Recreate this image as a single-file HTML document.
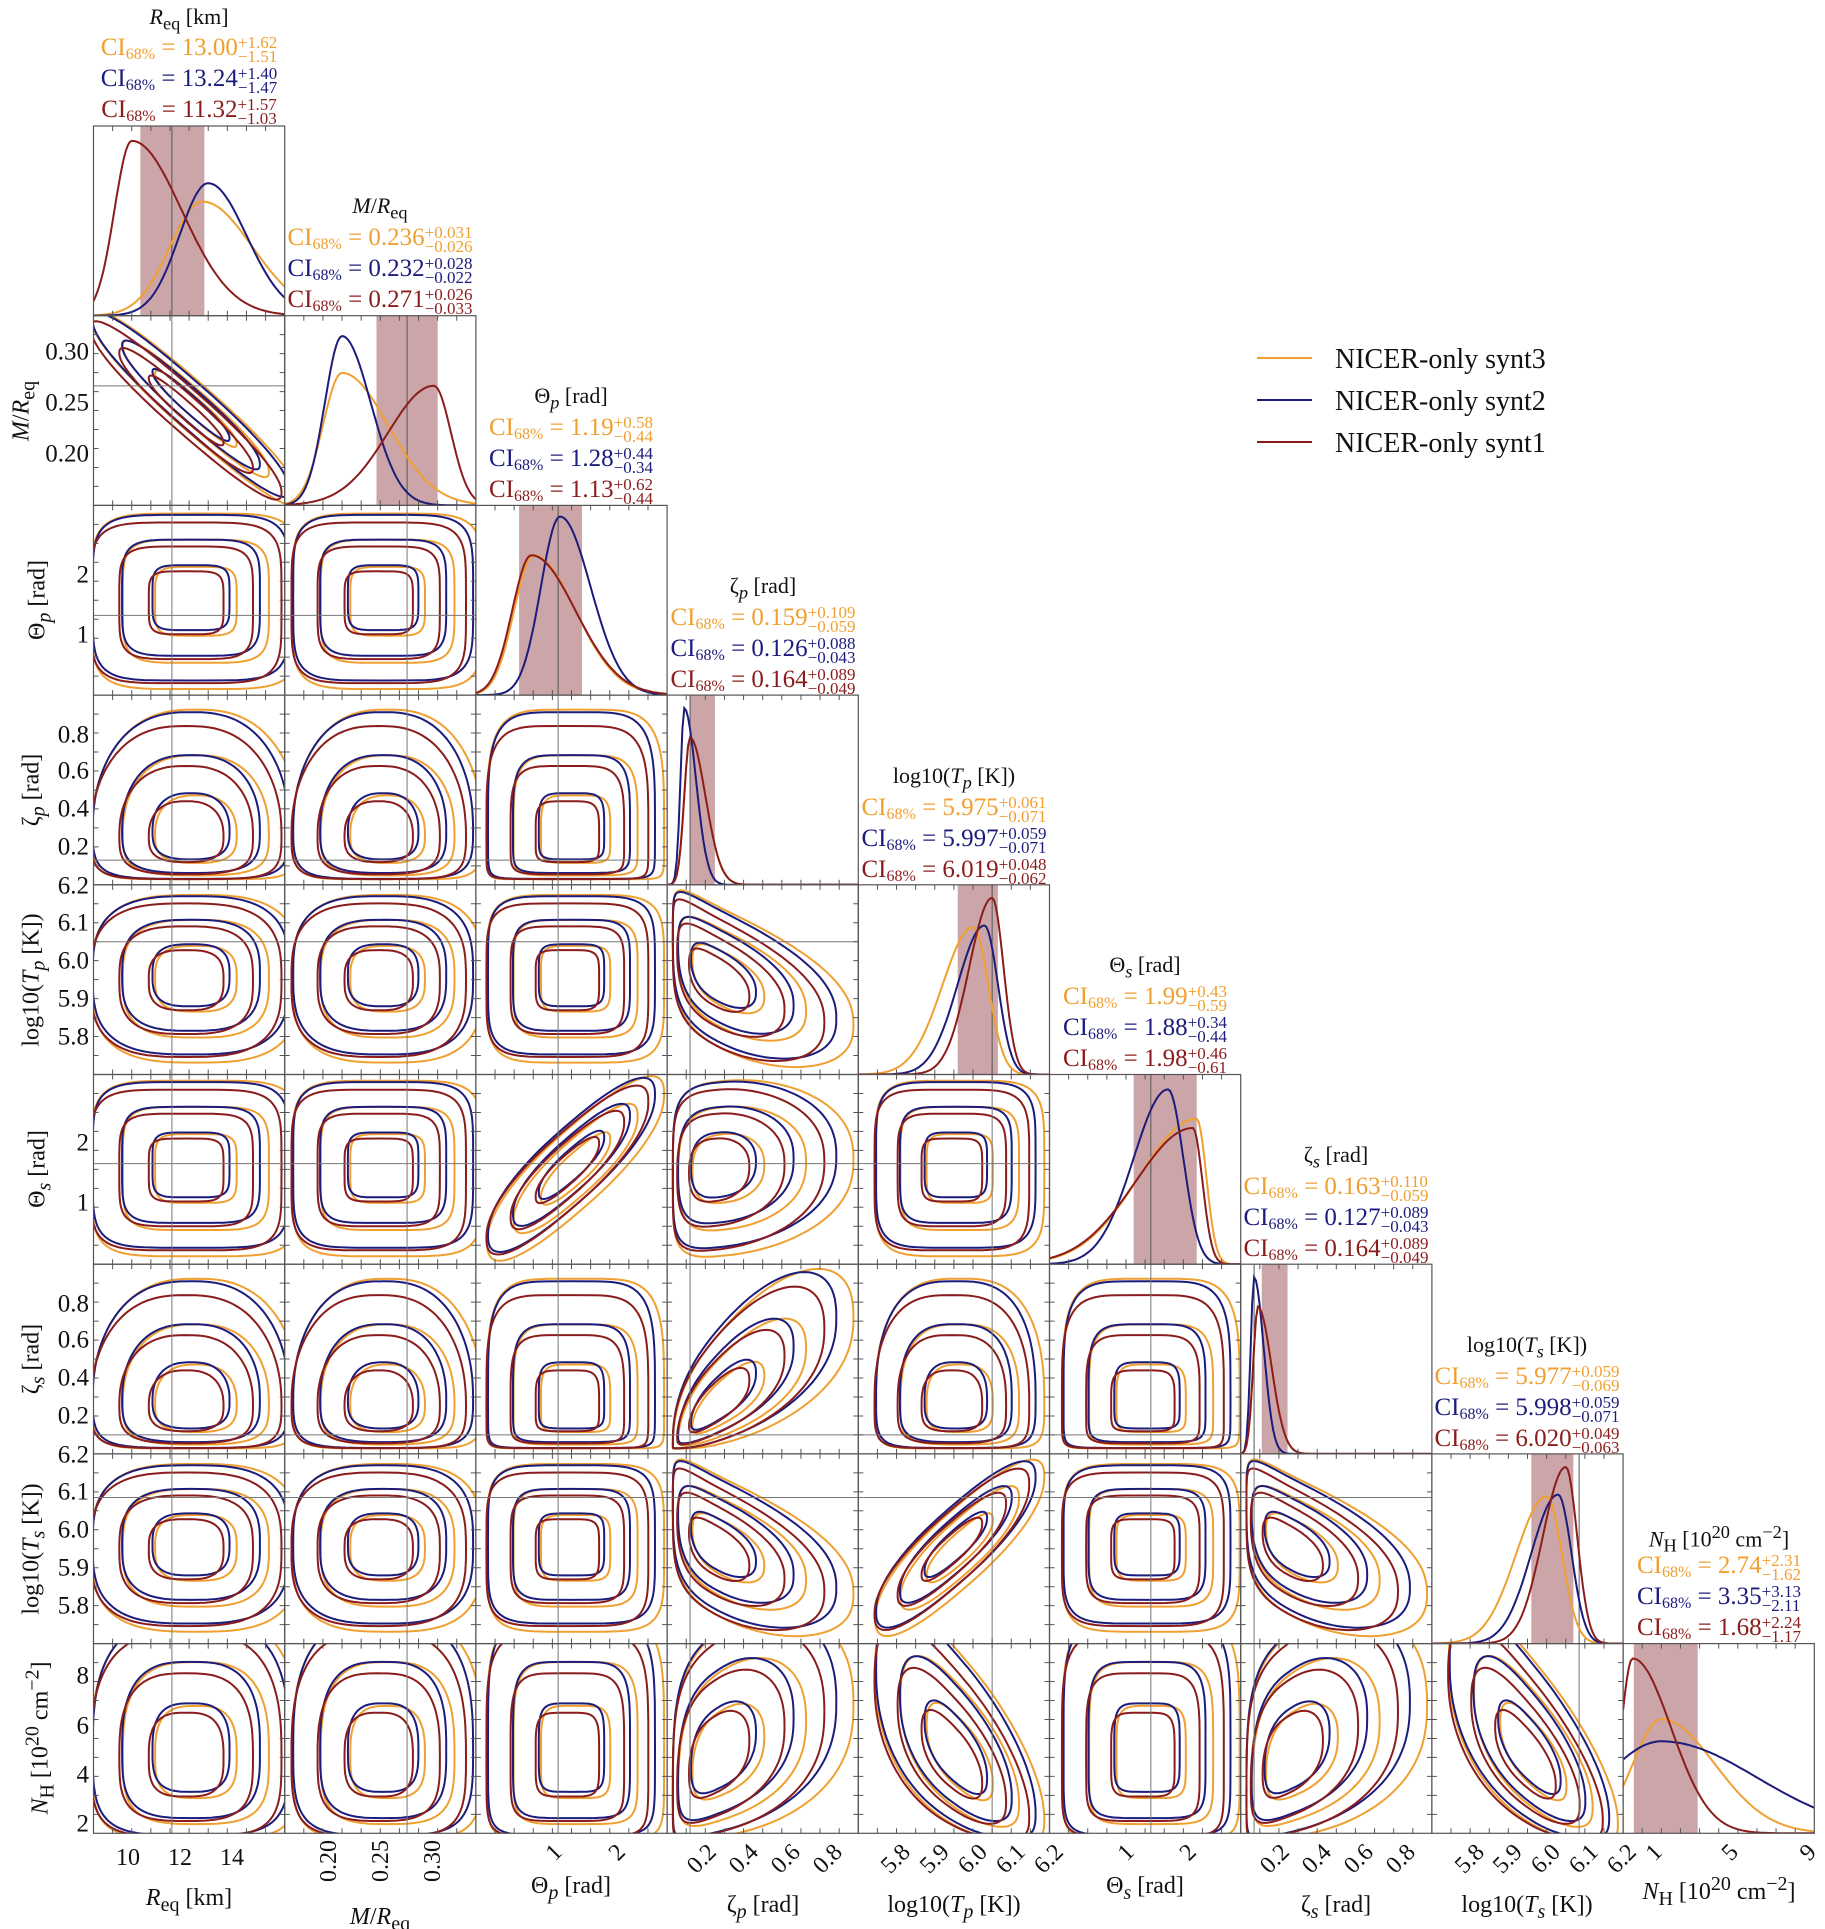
<!DOCTYPE html>
<html><head><meta charset="utf-8">
<style>
body{margin:0;background:#fff;}
#wrap{position:relative;width:1825px;height:1929px;overflow:hidden;background:#fff;font-family:"Liberation Serif",serif;}
svg{position:absolute;left:0;top:0;}
.t{position:absolute;white-space:nowrap;line-height:1;transform:translateX(-50%);}
.ti{font-size:22px;color:#111;}
.ci{font-size:25px;}
.ci sub{font-size:16px;vertical-align:-4px;}
.st{display:inline-block;vertical-align:-7px;font-size:17px;line-height:14px;text-align:left;}
.st span{display:block;}
.o{color:#f0a030}.b{color:#1c1c7c}.r{color:#8b1c1c}
.yl{position:absolute;white-space:nowrap;font-size:24px;line-height:1;transform:translate(-50%,-50%) rotate(-90deg);color:#111;}
.yt{position:absolute;font-size:25px;line-height:1;transform:translate(-100%,-50%);color:#111;}
.xt{position:absolute;font-size:24px;line-height:1;transform-origin:100% 0;transform:translateX(-100%) rotate(-45deg);color:#111;}
.xt9{position:absolute;font-size:24px;line-height:1;transform-origin:100% 0;transform:translateX(-100%) rotate(-90deg) translateY(-50%);color:#111;}
.xl{position:absolute;white-space:nowrap;font-size:24px;line-height:1;transform:translateX(-50%);color:#111;}
.lg{position:absolute;font-size:28px;line-height:1;color:#111;white-space:nowrap;}
</style></head><body>
<div id="wrap">
<svg id="s" width="1825" height="1929" viewBox="0 0 1825 1929"></svg>

<div class="t ti" style="left:189px;top:6px"><i>R</i><sub>eq</sub> [km]</div>
<div class="t ci o" style="left:189px;top:35px">CI<sub>68%</sub> = 13.00<span class="st"><span>+1.62</span><span>−1.51</span></span></div>
<div class="t ci b" style="left:189px;top:66px">CI<sub>68%</sub> = 13.24<span class="st"><span>+1.40</span><span>−1.47</span></span></div>
<div class="t ci r" style="left:189px;top:97px">CI<sub>68%</sub> = 11.32<span class="st"><span>+1.57</span><span>−1.03</span></span></div>

<div class="t ti" style="left:380px;top:195px"><i>M</i>/<i>R</i><sub>eq</sub></div>
<div class="t ci o" style="left:380px;top:225px">CI<sub>68%</sub> = 0.236<span class="st"><span>+0.031</span><span>−0.026</span></span></div>
<div class="t ci b" style="left:380px;top:256px">CI<sub>68%</sub> = 0.232<span class="st"><span>+0.028</span><span>−0.022</span></span></div>
<div class="t ci r" style="left:380px;top:287px">CI<sub>68%</sub> = 0.271<span class="st"><span>+0.026</span><span>−0.033</span></span></div>

<div class="t ti" style="left:571px;top:385px">Θ<sub><i>p</i></sub> [rad]</div>
<div class="t ci o" style="left:571px;top:415px">CI<sub>68%</sub> = 1.19<span class="st"><span>+0.58</span><span>−0.44</span></span></div>
<div class="t ci b" style="left:571px;top:446px">CI<sub>68%</sub> = 1.28<span class="st"><span>+0.44</span><span>−0.34</span></span></div>
<div class="t ci r" style="left:571px;top:477px">CI<sub>68%</sub> = 1.13<span class="st"><span>+0.62</span><span>−0.44</span></span></div>

<div class="t ti" style="left:763px;top:575px">ζ<sub><i>p</i></sub> [rad]</div>
<div class="t ci o" style="left:763px;top:605px">CI<sub>68%</sub> = 0.159<span class="st"><span>+0.109</span><span>−0.059</span></span></div>
<div class="t ci b" style="left:763px;top:636px">CI<sub>68%</sub> = 0.126<span class="st"><span>+0.088</span><span>−0.043</span></span></div>
<div class="t ci r" style="left:763px;top:667px">CI<sub>68%</sub> = 0.164<span class="st"><span>+0.089</span><span>−0.049</span></span></div>

<div class="t ti" style="left:954px;top:765px">log10(<i>T<sub>p</sub></i> [K])</div>
<div class="t ci o" style="left:954px;top:795px">CI<sub>68%</sub> = 5.975<span class="st"><span>+0.061</span><span>−0.071</span></span></div>
<div class="t ci b" style="left:954px;top:826px">CI<sub>68%</sub> = 5.997<span class="st"><span>+0.059</span><span>−0.071</span></span></div>
<div class="t ci r" style="left:954px;top:857px">CI<sub>68%</sub> = 6.019<span class="st"><span>+0.048</span><span>−0.062</span></span></div>

<div class="t ti" style="left:1145px;top:954px">Θ<sub><i>s</i></sub> [rad]</div>
<div class="t ci o" style="left:1145px;top:984px">CI<sub>68%</sub> = 1.99<span class="st"><span>+0.43</span><span>−0.59</span></span></div>
<div class="t ci b" style="left:1145px;top:1015px">CI<sub>68%</sub> = 1.88<span class="st"><span>+0.34</span><span>−0.44</span></span></div>
<div class="t ci r" style="left:1145px;top:1046px">CI<sub>68%</sub> = 1.98<span class="st"><span>+0.46</span><span>−0.61</span></span></div>

<div class="t ti" style="left:1336px;top:1144px">ζ<sub><i>s</i></sub> [rad]</div>
<div class="t ci o" style="left:1336px;top:1174px">CI<sub>68%</sub> = 0.163<span class="st"><span>+0.110</span><span>−0.059</span></span></div>
<div class="t ci b" style="left:1336px;top:1205px">CI<sub>68%</sub> = 0.127<span class="st"><span>+0.089</span><span>−0.043</span></span></div>
<div class="t ci r" style="left:1336px;top:1236px">CI<sub>68%</sub> = 0.164<span class="st"><span>+0.089</span><span>−0.049</span></span></div>

<div class="t ti" style="left:1527px;top:1334px">log10(<i>T<sub>s</sub></i> [K])</div>
<div class="t ci o" style="left:1527px;top:1364px">CI<sub>68%</sub> = 5.977<span class="st"><span>+0.059</span><span>−0.069</span></span></div>
<div class="t ci b" style="left:1527px;top:1395px">CI<sub>68%</sub> = 5.998<span class="st"><span>+0.059</span><span>−0.071</span></span></div>
<div class="t ci r" style="left:1527px;top:1426px">CI<sub>68%</sub> = 6.020<span class="st"><span>+0.049</span><span>−0.063</span></span></div>

<div class="t ti" style="left:1719px;top:1523px"><i>N</i><sub>H</sub> [10<sup>20</sup> cm<sup>−2</sup>]</div>
<div class="t ci o" style="left:1719px;top:1553px">CI<sub>68%</sub> = 2.74<span class="st"><span>+2.31</span><span>−1.62</span></span></div>
<div class="t ci b" style="left:1719px;top:1584px">CI<sub>68%</sub> = 3.35<span class="st"><span>+3.13</span><span>−2.11</span></span></div>
<div class="t ci r" style="left:1719px;top:1615px">CI<sub>68%</sub> = 1.68<span class="st"><span>+2.24</span><span>−1.17</span></span></div>

<div class="lg" style="left:1335px;top:346px">NICER-only synt3</div>
<div class="lg" style="left:1335px;top:388px">NICER-only synt2</div>
<div class="lg" style="left:1335px;top:430px">NICER-only synt1</div>

<div class="yl" style="left:24px;top:411px"><i>M</i>/<i>R</i><sub>eq</sub></div>
<div class="yl" style="left:40px;top:600px">Θ<sub><i>p</i></sub> [rad]</div>
<div class="yl" style="left:34px;top:790px">ζ<sub><i>p</i></sub> [rad]</div>
<div class="yl" style="left:34px;top:980px">log10(<i>T<sub>p</sub></i> [K])</div>
<div class="yl" style="left:40px;top:1169px">Θ<sub><i>s</i></sub> [rad]</div>
<div class="yl" style="left:34px;top:1359px">ζ<sub><i>s</i></sub> [rad]</div>
<div class="yl" style="left:34px;top:1549px">log10(<i>T<sub>s</sub></i> [K])</div>
<div class="yl" style="left:40px;top:1738px"><i>N</i><sub>H</sub> [10<sup>20</sup> cm<sup>−2</sup>]</div>

<div class="yt" style="left:89px;top:352px">0.30</div>
<div class="yt" style="left:89px;top:403px">0.25</div>
<div class="yt" style="left:89px;top:454px">0.20</div>
<div class="yt" style="left:89px;top:575px">2</div>
<div class="yt" style="left:89px;top:635px">1</div>
<div class="yt" style="left:89px;top:735px">0.8</div>
<div class="yt" style="left:89px;top:771px">0.6</div>
<div class="yt" style="left:89px;top:809px">0.4</div>
<div class="yt" style="left:89px;top:847px">0.2</div>
<div class="yt" style="left:89px;top:886px">6.2</div>
<div class="yt" style="left:89px;top:923px">6.1</div>
<div class="yt" style="left:89px;top:961px">6.0</div>
<div class="yt" style="left:89px;top:999px">5.9</div>
<div class="yt" style="left:89px;top:1037px">5.8</div>
<div class="yt" style="left:89px;top:1143px">2</div>
<div class="yt" style="left:89px;top:1203px">1</div>
<div class="yt" style="left:89px;top:1304px">0.8</div>
<div class="yt" style="left:89px;top:1340px">0.6</div>
<div class="yt" style="left:89px;top:1378px">0.4</div>
<div class="yt" style="left:89px;top:1416px">0.2</div>
<div class="yt" style="left:89px;top:1455px">6.2</div>
<div class="yt" style="left:89px;top:1492px">6.1</div>
<div class="yt" style="left:89px;top:1530px">6.0</div>
<div class="yt" style="left:89px;top:1568px">5.9</div>
<div class="yt" style="left:89px;top:1606px">5.8</div>
<div class="yt" style="left:89px;top:1676px">8</div>
<div class="yt" style="left:89px;top:1726px">6</div>
<div class="yt" style="left:89px;top:1775px">4</div>
<div class="yt" style="left:89px;top:1824px">2</div>

<div class="xl" style="left:128px;top:1846px">10</div>
<div class="xl" style="left:180px;top:1846px">12</div>
<div class="xl" style="left:232px;top:1846px">14</div>
<div class="xt9" style="left:329px;top:1840px">0.20</div>
<div class="xt9" style="left:381px;top:1840px">0.25</div>
<div class="xt9" style="left:433px;top:1840px">0.30</div>
<div class="xt" style="left:550px;top:1840px">1</div>
<div class="xt" style="left:613px;top:1840px">2</div>
<div class="xt" style="left:704px;top:1840px">0.2</div>
<div class="xt" style="left:746px;top:1840px">0.4</div>
<div class="xt" style="left:788px;top:1840px">0.6</div>
<div class="xt" style="left:830px;top:1840px">0.8</div>
<div class="xt" style="left:898px;top:1840px">5.8</div>
<div class="xt" style="left:937px;top:1840px">5.9</div>
<div class="xt" style="left:975px;top:1840px">6.0</div>
<div class="xt" style="left:1013px;top:1840px">6.1</div>
<div class="xt" style="left:1051px;top:1840px">6.2</div>
<div class="xt" style="left:1122px;top:1840px">1</div>
<div class="xt" style="left:1184px;top:1840px">2</div>
<div class="xt" style="left:1277px;top:1840px">0.2</div>
<div class="xt" style="left:1319px;top:1840px">0.4</div>
<div class="xt" style="left:1361px;top:1840px">0.6</div>
<div class="xt" style="left:1403px;top:1840px">0.8</div>
<div class="xt" style="left:1472px;top:1840px">5.8</div>
<div class="xt" style="left:1510px;top:1840px">5.9</div>
<div class="xt" style="left:1548px;top:1840px">6.0</div>
<div class="xt" style="left:1586px;top:1840px">6.1</div>
<div class="xt" style="left:1624px;top:1840px">6.2</div>
<div class="xt" style="left:1650px;top:1840px">1</div>
<div class="xt" style="left:1726px;top:1840px">5</div>
<div class="xt" style="left:1804px;top:1840px">9</div>

<div class="xl" style="left:189px;top:1886px"><i>R</i><sub>eq</sub> [km]</div>
<div class="xl" style="left:380px;top:1905px"><i>M</i>/<i>R</i><sub>eq</sub></div>
<div class="xl" style="left:571px;top:1874px">Θ<sub><i>p</i></sub> [rad]</div>
<div class="xl" style="left:763px;top:1893px">ζ<sub><i>p</i></sub> [rad]</div>
<div class="xl" style="left:954px;top:1893px">log10(<i>T<sub>p</sub></i> [K])</div>
<div class="xl" style="left:1145px;top:1874px">Θ<sub><i>s</i></sub> [rad]</div>
<div class="xl" style="left:1336px;top:1893px">ζ<sub><i>s</i></sub> [rad]</div>
<div class="xl" style="left:1527px;top:1893px">log10(<i>T<sub>s</sub></i> [K])</div>
<div class="xl" style="left:1719px;top:1874px"><i>N</i><sub>H</sub> [10<sup>20</sup> cm<sup>−2</sup>]</div>
</div>

<script>
(function(){
var X0=93.5,Y0=126,W=191.2,H=189.7;
var O="#f0a030",B="#1c1c7c",R="#8b1c1c",SH="#cba5a7";
var out=[];
function X(i){return X0+i*W;} function Y(j){return Y0+j*H;}
var P=[
 {a0:-0.02,a1:1.06,pw:1,n:2.6},
 {a0:0.03,a1:0.97,pw:1,n:2.6},
 {a0:0.05,a1:0.9,pw:1,n:5},
 {a0:0.03,a1:0.88,pw:1.9,n:2.6},
 {a0:0.08,a1:0.86,pw:1,n:3},
 {a0:0.06,a1:0.9,pw:1,n:5},
 {a0:0.03,a1:0.88,pw:1.9,n:2.6},
 {a0:0.08,a1:0.86,pw:1,n:3},
 {a0:-0.02,a1:1.15,pw:1.4,n:3}
];
var rho={};
function sr(i,j,v){rho[i+"_"+j]=v;}
sr(0,1,-0.95);sr(2,5,0.85);sr(3,6,0.75);sr(4,7,0.85);
sr(3,4,-0.55);sr(6,4,-0.55);sr(3,7,-0.55);sr(6,7,-0.55);
sr(4,8,-0.65);sr(7,8,-0.7);sr(3,8,0.4);sr(6,8,0.4);sr(3,5,0.1);
var tx=[0.41,0.64,0.43,0.12,0.70,0.53,0.07,0.77,0.0];
var ty=[null,0.63,0.42,0.13,0.70,0.53,0.10,0.77,null];
function mp(p,q){var pp=P[p];if(q<-0.3)q=-0.3;var s=q<0?-1:1;return pp.a0+pp.a1*s*Math.pow(Math.abs(q),pp.pw);}
var cols=[{c:O,dx:0.08,dy:-0.02,k:1.06},{c:B,dx:0.0,dy:0.05,k:1.0},{c:R,dx:-0.08,dy:-0.05,k:0.97}];
var levels=[0.38,0.68,0.97];
out.push('<defs>');
for(var j=0;j<9;j++)for(var i=0;i<=j;i++)out.push('<clipPath id="c'+i+'_'+j+'"><rect x="'+X(i)+'" y="'+Y(j)+'" width="'+W+'" height="'+H+'"/></clipPath>');
out.push('</defs>');
for(var j=1;j<9;j++)for(var i=0;i<j;i++){
 var r=rho[i+"_"+j]||0, x=X(i),y=Y(j);
 out.push('<g clip-path="url(#c'+i+'_'+j+')" fill="none" stroke-width="2">');
 var n=Math.max(P[i].n,P[j].n);
 if(r!==0) n=Math.min(n,2.4);
 for(var c=0;c<3;c++){var C=cols[c];
  for(var l=0;l<3;l++){var L=levels[l]*C.k, pts=[];
   for(var t=0;t<=120;t++){var a=t/120*2*Math.PI,ca=Math.cos(a),sa=Math.sin(a);
    var u=(ca<0?-1:1)*Math.pow(Math.abs(ca),2/n), v=(sa<0?-1:1)*Math.pow(Math.abs(sa),2/n);
    var uu=u, vv=r*u+Math.sqrt(1-r*r)*v;
    var qx=(uu*L+1)/2+C.dx*0.3, qy=(vv*L+1)/2+C.dy*0.3;
    var fx=mp(i,qx), fy=mp(j,qy);
    pts.push((x+fx*W).toFixed(1)+','+(y+H-fy*H).toFixed(1));}
   out.push('<polyline stroke="'+C.c+'" points="'+pts.join(' ')+'"/>');}
 }
 out.push('</g>');
 out.push('<line x1="'+(x+tx[i]*W)+'" y1="'+y+'" x2="'+(x+tx[i]*W)+'" y2="'+(y+H)+'" stroke="#777" stroke-width="1"/>');
 if(ty[j]!==null)out.push('<line x1="'+x+'" y1="'+(y+H-ty[j]*H)+'" x2="'+(x+W)+'" y2="'+(y+H-ty[j]*H)+'" stroke="#777" stroke-width="1"/>');
}
var D=[
 {sh:[0.245,0.58],cu:[[0.57,0.62,0.17,0.26],[0.6,0.72,0.15,0.2],[0.2,0.95,0.09,0.26]]},
 {sh:[0.48,0.80],cu:[[0.3,0.72,0.1,0.24],[0.3,0.92,0.09,0.15],[0.78,0.65,0.24,0.09]]},
 {sh:[0.226,0.555],cu:[[0.3,0.76,0.1,0.22],[0.44,0.97,0.1,0.16],[0.29,0.76,0.1,0.23]]},
 {sh:[0.12,0.25],cu:[[0.12,0.8,0.03,0.08],[0.09,0.96,0.02,0.06],[0.12,0.8,0.03,0.08]]},
 {sh:[0.52,0.73],cu:[[0.6,0.8,0.16,0.08],[0.66,0.81,0.14,0.07],[0.7,0.96,0.12,0.06]]},
 {sh:[0.44,0.77],cu:[[0.77,0.79,0.3,0.05],[0.62,0.95,0.18,0.08],[0.75,0.74,0.3,0.05]]},
 {sh:[0.11,0.245],cu:[[0.09,0.8,0.025,0.07],[0.07,0.96,0.018,0.05],[0.09,0.8,0.025,0.07]]},
 {sh:[0.52,0.74],cu:[[0.6,0.8,0.16,0.08],[0.66,0.81,0.14,0.07],[0.7,0.96,0.12,0.06]]},
 {sh:[0.056,0.39],cu:[[0.2,0.62,0.15,0.28],[0.2,0.5,0.3,0.5],[0.05,0.95,0.06,0.2]]}
];
var dc=[O,B,R];
for(var k=0;k<9;k++){var x=X(k),y=Y(k),d=D[k];
 out.push('<rect x="'+(x+d.sh[0]*W)+'" y="'+y+'" width="'+((d.sh[1]-d.sh[0])*W)+'" height="'+H+'" fill="'+SH+'"/>');
 if(k<8)out.push('<line x1="'+(x+tx[k]*W)+'" y1="'+y+'" x2="'+(x+tx[k]*W)+'" y2="'+(y+H)+'" stroke="#555" stroke-width="1"/>');
 out.push('<g clip-path="url(#c'+k+'_'+k+')" fill="none" stroke-width="2">');
 for(var c=0;c<3;c++){var q=d.cu[c],pts=[];
  for(var t=0;t<=100;t++){var f=t/100,s=f<q[0]?q[2]:q[3];var v=q[1]*Math.exp(-(f-q[0])*(f-q[0])/(2*s*s));
   pts.push((x+f*W).toFixed(1)+','+(y+H-v*H*0.97).toFixed(1));}
  out.push('<polyline stroke="'+dc[c]+'" points="'+pts.join(' ')+'"/>');}
 out.push('</g>');
}
for(var j=0;j<9;j++)for(var i=0;i<=j;i++){var x=X(i),y=Y(j);
 out.push('<rect x="'+x+'" y="'+y+'" width="'+W+'" height="'+H+'" fill="none" stroke="#555" stroke-width="1.2"/>');
 var tk='';
 for(var m=1;m<10;m++){var xx=x+m*W/10;tk+='M'+xx+' '+(y+H)+'v-5M'+xx+' '+y+'v5';
  if(i!==j){var yy=y+m*H/10;tk+='M'+x+' '+yy+'h5M'+(x+W)+' '+yy+'h-5';}}
 out.push('<path d="'+tk+'" stroke="#555" stroke-width="1"/>');
}
out.push('<line x1="1257" y1="358" x2="1312" y2="358" stroke="'+O+'" stroke-width="2"/>');
out.push('<line x1="1257" y1="400" x2="1312" y2="400" stroke="'+B+'" stroke-width="2"/>');
out.push('<line x1="1257" y1="442" x2="1312" y2="442" stroke="'+R+'" stroke-width="2"/>');
document.getElementById('s').innerHTML=out.join('');
})();
</script>
</body></html>
